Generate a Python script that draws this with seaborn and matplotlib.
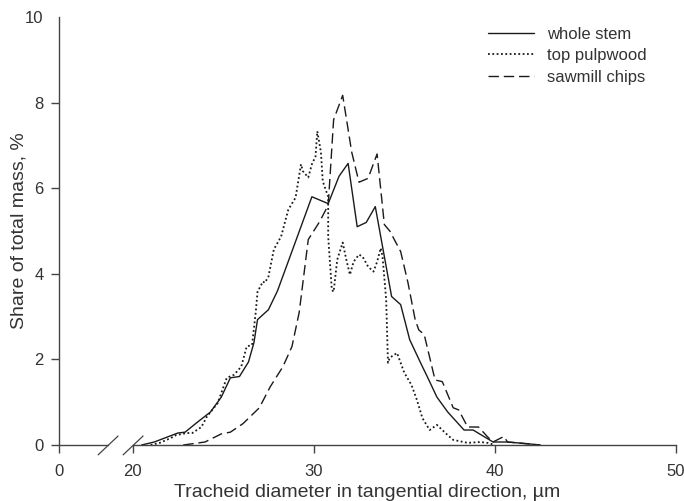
import pandas as pd
import seaborn as sns
import matplotlib.pyplot as plt

# Dados (diâmetro em µm, participação em %)
stem_d = [20.5, 21.2, 22.5, 22.9, 23.6, 24.3, 24.9, 25.4, 25.9, 26.4, 26.7, 26.9,
          27.5, 28.0, 28.9, 29.9, 30.8, 31.4, 31.9, 32.4, 32.9, 33.4, 34.3, 34.8,
          35.3, 35.9, 36.3, 36.8, 37.4, 38.3, 38.8, 39.9, 40.7, 41.8, 42.5]
stem_v = [0.0, 0.07, 0.28, 0.3, 0.54, 0.77, 1.12, 1.57, 1.6, 1.94, 2.39, 2.93,
          3.16, 3.6, 4.64, 5.8, 5.64, 6.28, 6.58, 5.1, 5.2, 5.57, 3.47, 3.28,
          2.46, 1.92, 1.57, 1.12, 0.77, 0.35, 0.35, 0.07, 0.07, 0.03, 0.0]

pulp_d = [21.0, 21.5, 22.1, 22.4, 23.0, 23.3, 23.8, 24.1, 24.7, 25.2, 25.6, 26.0,
          26.3, 26.6, 26.8, 26.9, 27.2, 27.3, 27.5, 27.8, 28.2, 28.6, 29.0, 29.3,
          29.4, 29.7, 29.9, 30.1, 30.2, 30.4, 30.5, 30.8, 30.8, 31.0, 31.1, 31.3,
          31.6, 31.8, 32.0, 32.2, 32.5, 32.7, 33.0, 33.3, 33.5, 33.7, 33.8, 34.0,
          34.1, 34.2, 34.6, 35.0, 35.4, 35.7, 36.0, 36.4, 36.8, 37.4, 37.7, 38.5,
          39.2, 39.6, 40.0]
pulp_v = [0.0, 0.05, 0.16, 0.23, 0.28, 0.28, 0.42, 0.66, 0.98, 1.57, 1.64, 1.83,
          2.3, 2.34, 3.1, 3.58, 3.82, 3.79, 3.93, 4.57, 4.87, 5.5, 5.78, 6.56,
          6.4, 6.25, 6.56, 6.74, 7.33, 6.84, 6.16, 5.8, 4.87, 3.63, 3.58, 4.33,
          4.73, 4.33, 3.98, 4.28, 4.45, 4.4, 4.17, 4.05, 4.28, 4.6, 4.4, 3.4,
          1.92, 2.04, 2.15, 1.69, 1.4, 1.05, 0.63, 0.35, 0.47, 0.23, 0.12, 0.05,
          0.07, 0.05, 0.0]

chips_d = [22.8, 24.0, 24.9, 25.4, 26.1, 27.0, 27.6, 28.3, 28.8, 29.2, 29.7, 30.3,
           30.8, 31.1, 31.6, 32.1, 32.5, 33.0, 33.5, 33.9, 34.2, 34.8, 35.2, 35.6,
           35.8, 36.1, 36.7, 37.1, 37.7, 38.0, 38.5, 39.1, 39.6, 39.9, 40.5, 40.7,
           42.5]
chips_v = [0.0, 0.07, 0.26, 0.3, 0.5, 0.87, 1.36, 1.83, 2.3, 3.1, 4.8, 5.2,
           5.6, 7.6, 8.17, 6.84, 6.14, 6.23, 6.8, 5.15, 5.0, 4.52, 3.8, 2.93,
           2.69, 2.58, 1.52, 1.48, 0.87, 0.82, 0.42, 0.42, 0.19, 0.07, 0.2, 0.07,
           0.0]

labels = ['whole stem', 'top pulpwood', 'sawmill chips']

df = pd.concat([
    pd.DataFrame({'d': stem_d, 'share': stem_v, 'sample': labels[0]}),
    pd.DataFrame({'d': pulp_d, 'share': pulp_v, 'sample': labels[1]}),
    pd.DataFrame({'d': chips_d, 'share': chips_v, 'sample': labels[2]}),
])

sns.set_style('ticks')
plt.rcParams['font.family'] = ['Liberation Sans', 'DejaVu Sans']
txt = '#333333'
ink = '#1a1a1a'

fig = plt.figure(figsize=(6.84, 5.01), dpi=100)
ax = fig.add_axes([59 / 684, 56 / 501, 617 / 684, 428 / 501])

x0 = 15.94  # posição do "0" antes da quebra do eixo
sns.lineplot(data=df, x='d', y='share', style='sample', style_order=labels,
             dashes={labels[0]: '', labels[1]: (1, 1.4), labels[2]: (7.5, 3.5)},
             color=ink, linewidth=1.0, estimator=None, sort=False,
             legend=False, ax=ax)
ax.lines[1].set_linewidth(1.3)

ax.set_xlim(x0, 50)
ax.set_ylim(0, 10)
ax.set_xticks([x0, 20, 30, 40, 50])
ax.set_xticklabels(['0', '20', '30', '40', '50'])
ax.set_yticks([0, 2, 4, 6, 8, 10])
ax.yaxis.get_major_ticks()[-1].tick1line.set_visible(False)

for s in ['top', 'right']:
    ax.spines[s].set_visible(False)
for s in ['left', 'bottom']:
    ax.spines[s].set_color('#444444')
    ax.spines[s].set_linewidth(1.0)

# quebra do eixo x
ax.spines['bottom'].set_bounds(20, 50)
tr = ax.get_xaxis_transform()
ax.plot([x0, 18.65], [0, 0], color='#444444', lw=1.0, transform=tr, clip_on=False)
for xc in [18.65, 20.03]:
    ax.plot([xc - 0.55, xc + 0.55], [-0.023, 0.021], color='#444444', lw=0.9,
            transform=tr, clip_on=False)

ax.tick_params(axis='x', length=6, width=1.0, color='#444444', pad=8,
               labelsize=12, labelcolor=txt)
ax.tick_params(axis='y', length=6, width=1.0, color='#444444', pad=5,
               labelsize=12, labelcolor=txt)

ax.set_xlabel('Tracheid diameter in tangential direction, µm', fontsize=14,
              color=txt, labelpad=3)
ax.set_ylabel('Share of total mass, %', fontsize=14, color=txt, labelpad=-2)

ax.legend(ax.lines[:3], labels, loc='upper left', bbox_to_anchor=(0.713, 0.947),
          bbox_transform=fig.transFigure, frameon=False, fontsize=12,
          handlelength=2.8, handletextpad=0.78, labelspacing=0.39,
          borderpad=0, borderaxespad=0, labelcolor=txt)

plt.savefig('out.png', dpi=100)
